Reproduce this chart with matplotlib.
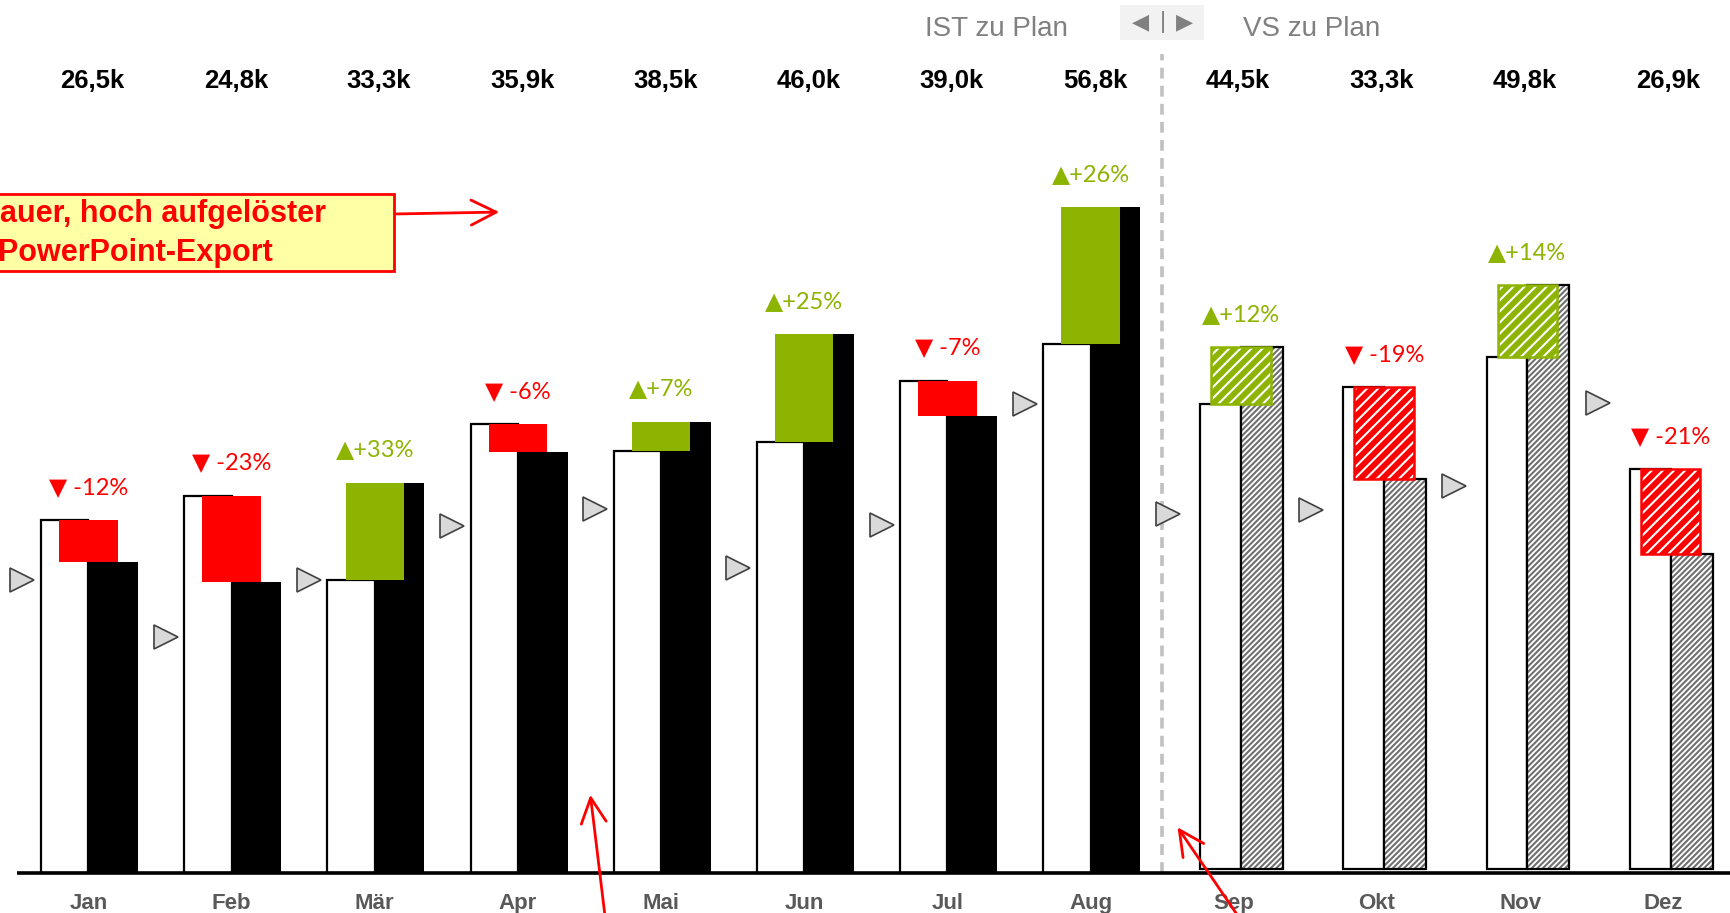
import numpy as np
import matplotlib.pyplot as plt
from matplotlib.patches import Rectangle, FancyArrowPatch

# Monthly data (k)
months = ['Jan', 'Feb', 'Mär', 'Apr', 'Mai', 'Jun', 'Jul', 'Aug', 'Sep', 'Okt', 'Nov', 'Dez']
ist = [26.5, 24.8, 33.3, 35.9, 38.5, 46.0, 39.0, 56.8, 44.5, 33.3, 49.8, 26.9]
plan = [30.1, 32.2, 25.0, 38.3, 36.0, 36.8, 42.0, 45.1, 39.7, 41.1, 43.7, 34.1]
vorjahr = [25.0, 20.1, 25.0, 29.6, 31.1, 26.0, 29.7, 40.0, 30.6, 31.0, 33.0, 40.1]
n_actual = 8  # Jan-Aug IST, Sep-Dez Vorschau

GREEN = '#8db400'
RED = '#ff0000'
W, H = 1730, 913
vs_base = 0.35  # VS bars sit slightly above the axis line

plt.rcParams['hatch.linewidth'] = 1.5

fig = plt.figure(figsize=(W / 100, H / 100), dpi=100)
ax = fig.add_axes([0, 0, 1, 1])
ax.set_xlim(-0.617, 11.465)
ax.set_ylim(-3.41, 74.49)
ax.axis('off')


def fpx(x, y):
    # pixel (top-left origin) -> figure fraction
    return x / W, 1 - y / H


pct = [round((i / p - 1) * 100) for i, p in zip(ist, plan)]

for k, m in enumerate(months):
    c = k
    col = GREEN if pct[k] > 0 else RED
    if k < n_actual:
        ax.bar(c - 0.331, plan[k], 0.331, align='edge', facecolor='white',
               edgecolor='black', linewidth=1.6, zorder=2)
        ax.bar(c, ist[k], 0.347, align='edge', color='black', zorder=2)
        ax.bar(c - 0.204, ist[k] - plan[k], 0.408, bottom=plan[k], align='edge',
               color=col, linewidth=0, zorder=3)
        dc, b = c, 0
    else:
        j = c + 0.05
        b = vs_base
        ax.bar(j - 0.285, plan[k], 0.285, bottom=b, align='edge', facecolor='white',
               edgecolor='black', linewidth=1.6, zorder=2)
        ax.bar(j, ist[k], 0.293, bottom=b, align='edge', facecolor='white',
               edgecolor='#707070', hatch='//////', linewidth=0, zorder=2)
        ax.bar(j, ist[k], 0.293, bottom=b, align='edge', fill=False,
               edgecolor='black', linewidth=1.6, zorder=2)
        ax.bar(j - 0.208, ist[k] - plan[k], 0.416, bottom=plan[k] + b, align='edge',
               facecolor=col, edgecolor='white', hatch='///', linewidth=0, zorder=3)
        ax.bar(j - 0.208, ist[k] - plan[k], 0.416, bottom=plan[k] + b, align='edge',
               fill=False, edgecolor=col, linewidth=1.8, zorder=3)
        dc = j
    # percentage label
    lab = f'▲+{pct[k]}%' if pct[k] > 0 else f'▼ {pct[k]}%'
    ax.text(dc, max(ist[k], plan[k]) + b + 2.8, lab, ha='center', va='center',
            fontsize=17, color=col, family=['Lato', 'DejaVu Sans'], zorder=5)
    # total label
    ax.text(c + 0.03, 67.6, f'{ist[k]:.1f}k'.replace('.', ','), ha='center',
            va='center', fontsize=18.5, fontweight='bold', color='black',
            family='Liberation Sans')
    # month label
    ax.text(c, -2.6, m, ha='center', va='center', fontsize=16,
            fontweight='bold', color='#595959', family='Liberation Sans')

# Vorjahr markers
ax.plot(np.arange(12) - 0.46, vorjahr, linestyle='none', marker='>',
        markersize=17, markerfacecolor='#d9d9d9', markeredgecolor='#404040',
        markeredgewidth=1.2, zorder=4)

# baseline
ax.plot([-0.5, 11.465], [0, 0], color='black', linewidth=2.6, zorder=4,
        solid_capstyle='butt')

# separator IST / VS
ax.plot([7.5, 7.5], [0, 69.9], color='#c0c0c0', linewidth=2.6,
        linestyle=(0, (3, 2)), zorder=1)

# header
fig.text(*fpx(996, 29), 'IST zu Plan', ha='center', va='center', fontsize=20,
         color='#808080', family='Liberation Sans')
fig.text(*fpx(1312, 29), 'VS zu Plan', ha='center', va='center', fontsize=20,
         color='#808080', family='Liberation Sans')
bx, by = fpx(1120, 40)
fig.add_artist(Rectangle((bx, by), 84 / W, 35 / H, transform=fig.transFigure,
                         facecolor='#f2f2f2', edgecolor='none'))
fig.text(*fpx(1141, 22), '◀', ha='center', va='center', fontsize=16,
         color='#808080', family='DejaVu Sans')
fig.text(*fpx(1185, 22), '▶', ha='center', va='center', fontsize=16,
         color='#808080', family='DejaVu Sans')
fig.text(*fpx(1163, 22), '|', ha='center', va='center', fontsize=17,
         color='#808080', family='Liberation Sans')

# annotation box
rx, ry = fpx(-10, 271)
fig.add_artist(Rectangle((rx, ry), 404 / W, 77 / H, transform=fig.transFigure,
                         facecolor='#ffffa6', edgecolor=RED, linewidth=2))
fig.text(*fpx(0, 214), 'auer, hoch aufgelöster', ha='left', va='center',
         fontsize=22, fontweight='bold', color=RED, family='Liberation Sans')
fig.text(*fpx(-2, 253), 'PowerPoint-Export', ha='left', va='center',
         fontsize=22, fontweight='bold', color=RED, family='Liberation Sans')

arrows = [((394, 214), (502, 212)), ((605, 916), (590, 792)), ((1238, 916), (1176, 825))]
for (x0, y0), (x1, y1) in arrows:
    fig.add_artist(FancyArrowPatch(fpx(x0, y0), fpx(x1, y1), transform=fig.transFigure,
                                   arrowstyle='->,head_length=0.9,head_width=0.45',
                                   mutation_scale=20, color=RED, linewidth=2))

fig.savefig('out.png', dpi=100)
